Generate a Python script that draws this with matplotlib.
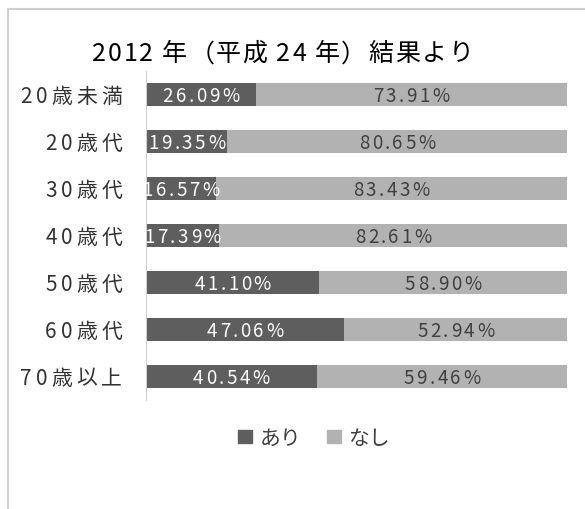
import matplotlib
matplotlib.use("Agg")
import matplotlib.pyplot as plt
from matplotlib.lines import Line2D
from matplotlib.patches import Patch
from matplotlib.transforms import offset_copy, blended_transform_factory

plt.rcParams['font.family'] = ['Noto Sans CJK JP', 'DejaVu Sans']

title = "2012 年（平成 24 年）結果より"
categories = ["20歳未満", "20歳代", "30歳代", "40歳代", "50歳代", "60歳代", "70歳以上"]
ari = [26.09, 19.35, 16.57, 17.39, 41.10, 47.06, 40.54]
nashi = [73.91, 80.65, 83.43, 82.61, 58.90, 52.94, 59.46]
series_names = ["あり", "なし"]

DARK = "#5e5e5e"
LIGHT = "#b2b2b2"
TEXT = "#404040"


def spaced_text(fig, x, y, s, trans, gap=0, ha="center", dx=0, width=None, **kw):
    """Draw s char by char using advance widths plus extra letter spacing (px)."""
    r = fig.canvas.get_renderer()
    ref = fig.text(0, 0, "xx", **kw)
    base = ref.get_window_extent(r).width
    ref.remove()
    adv = []
    for ch in s:
        t = fig.text(0, 0, "x" + ch + "x", **kw)
        adv.append(t.get_window_extent(r).width - base)
        t.remove()
    if width is not None:
        gap = (width - sum(adv)) / (len(s) - 1)
    total = sum(adv) + gap * (len(s) - 1)
    pen = dx + {"center": -total / 2, "left": 0, "right": -total}[ha]
    size_px = kw.get("fontsize", 12) * fig.dpi / 72
    for ch, a in zip(s, adv):
        if ch == "（":
            cx, cha = pen + a + gap * 0.5, "right"
        elif ch == "）":
            cx, cha = pen - gap * 0.5, "left"
        else:
            cx, cha = pen + a / 2, "center"
        if ch.strip():
            tr = offset_copy(trans, fig=fig, x=cx, y=-0.365 * size_px, units="dots")
            fig.text(x, y, ch, transform=tr, ha=cha, va="baseline", **kw)
        pen += a + gap


fig = plt.figure(figsize=(5.85, 5.10), dpi=100)
ax = fig.add_axes([146 / 585, 1 - 400.5 / 510, 421 / 585, 328.5 / 510])

y = list(range(len(categories)))
ax.barh(y, ari, height=0.49, color=DARK)
ax.barh(y, nashi, left=ari, height=0.49, color=LIGHT)

ax.set_xlim(0, 100)
ax.set_ylim(len(categories) - 0.5, -0.5)
ax.set_xticks([])
ax.set_yticks([])
for s in ["top", "right", "bottom"]:
    ax.spines[s].set_visible(False)
ax.spines["left"].set_color("#d0d0d0")
ax.spines["left"].set_linewidth(0.8)

# data labels
for i in y:
    spaced_text(fig, ari[i] / 2, i, f"{ari[i]:.2f}%", ax.transData, 2.5,
                fontsize=13.5, color="white")
    spaced_text(fig, ari[i] + nashi[i] / 2, i, f"{nashi[i]:.2f}%", ax.transData, 2.5,
                fontsize=13.5, color=TEXT)

# category labels
ytrans = blended_transform_factory(ax.transAxes, ax.transData)
for i, cat in enumerate(categories):
    spaced_text(fig, 0, i, cat, ytrans, 4, ha="right", dx=-24,
                fontsize=15, color="#333333")

# title
spaced_text(fig, 283 / 585, 1 - 52 / 510, title, fig.transFigure, width=382,
            fontsize=18, color="#000000")

fig.legend([Patch(color=DARK), Patch(color=LIGHT)], series_names,
           loc="center", bbox_to_anchor=(314 / 585, 1 - 439 / 510), ncol=2, frameon=False,
           fontsize=15, handlelength=0.7, handleheight=0.55, handletextpad=0.35,
           columnspacing=1.2, labelcolor=TEXT)

# chart border (left and top visible)
fig.add_artist(Line2D([8 / 585, 8 / 585], [0.0, 1 - 10 / 510], color="#d0d0d0", linewidth=1.5,
                      transform=fig.transFigure))
fig.add_artist(Line2D([8 / 585, 1.0], [1 - 10 / 510, 1 - 10 / 510], color="#d0d0d0", linewidth=1.5,
                      transform=fig.transFigure))

fig.savefig("out.png", dpi=100)
